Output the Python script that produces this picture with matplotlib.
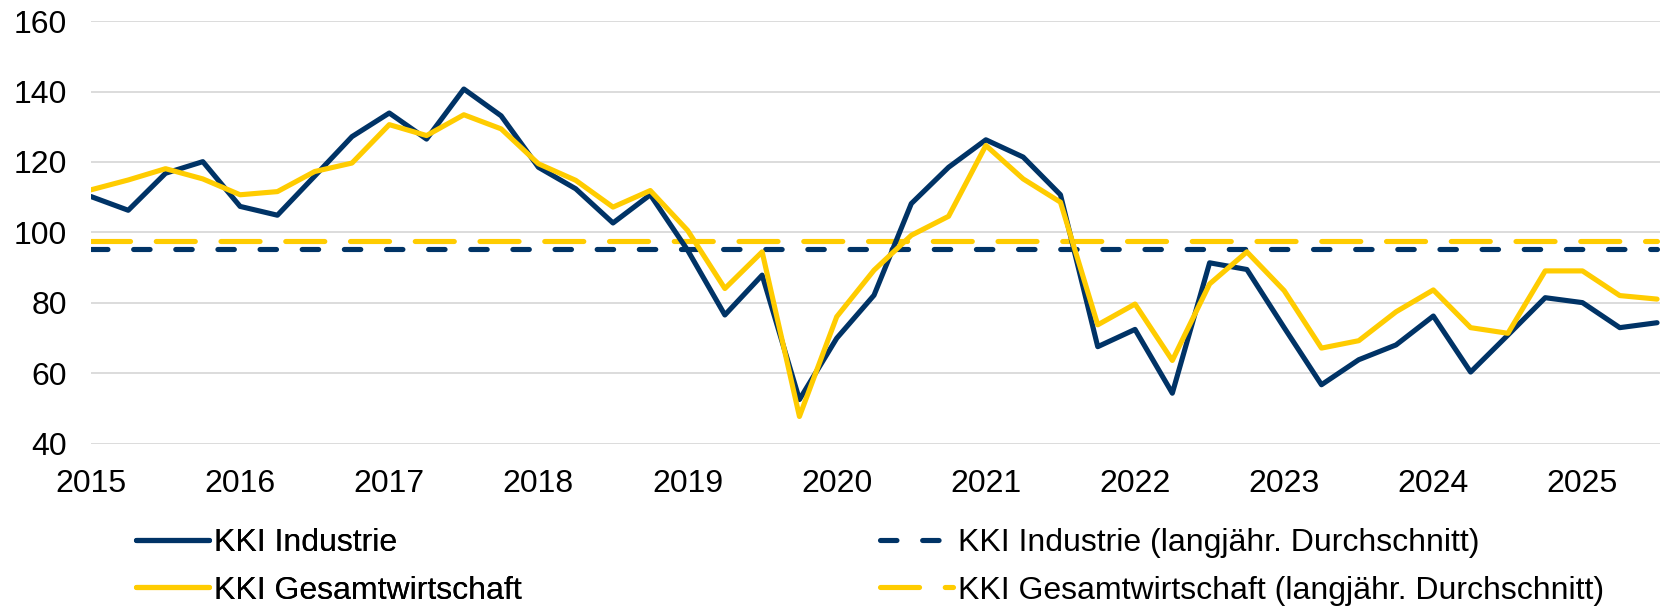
import matplotlib.pyplot as plt
import numpy as np

# quarterly values 2015 Q1 .. 2025 Q3
quarters = [f"{y} Q{q}" for y in range(2015, 2026) for q in range(1, 5)][:43]

kki_industrie = [110.2, 106.3, 116.8, 120.1, 107.4, 104.9, 116.0, 127.2, 133.9, 126.5,
                 140.7, 133.1, 118.5, 112.4, 102.7, 110.7, 95.0, 76.6, 87.9, 52.6,
                 70.0, 82.2, 108.2, 118.5, 126.3, 121.4, 110.7, 67.6, 72.5, 54.4,
                 91.4, 89.5, 73.0, 56.8, 63.9, 68.1, 76.3, 60.4, 70.9, 81.5,
                 80.1, 73.0, 74.4]
kki_gesamt = [112.1, 114.9, 118.1, 115.2, 110.7, 111.6, 117.3, 119.7, 130.6, 127.5,
              133.4, 129.4, 119.5, 114.8, 107.2, 111.9, 100.6, 84.1, 94.5, 47.8,
              76.1, 89.3, 99.2, 104.6, 124.7, 115.2, 108.6, 73.8, 79.7, 63.7,
              85.4, 94.5, 83.5, 67.2, 69.3, 77.5, 83.7, 73.0, 71.4, 89.1,
              89.1, 82.1, 81.1]
avg_industrie = 95.2
avg_gesamt = 97.7

year_labels = [str(y) for y in range(2015, 2026)]

NAVY = "#003366"
GOLD = "#FFCC00"

plt.rcParams['font.family'] = ['Liberation Sans', 'DejaVu Sans']

fig = plt.figure(figsize=(16.63, 6.09), dpi=100)
ax = fig.add_axes([0.0547, 0.271, 0.9433, 0.6945])

x = np.arange(len(quarters))
lw = 3.7

l_avg_i, = ax.plot(x, [avg_industrie] * len(x), color=NAVY, lw=lw,
                   dashes=(3.2, 5.0), dash_capstyle='round',
                   label="KKI Industrie (langjähr. Durchschnitt)")
l_avg_g, = ax.plot(x, [avg_gesamt] * len(x), color=GOLD, lw=lw,
                   dashes=(7.6, 5.0), dash_capstyle='round',
                   label="KKI Gesamtwirtschaft (langjähr. Durchschnitt)")
l_ind, = ax.plot(x, kki_industrie, color=NAVY, lw=lw, solid_capstyle='round',
                 label="KKI Industrie")
l_ges, = ax.plot(x, kki_gesamt, color=GOLD, lw=lw, solid_capstyle='round',
                 label="KKI Gesamtwirtschaft")

ax.set_xlim(0, 42.07)
ax.set_ylim(40, 160)
ax.set_yticks(range(40, 161, 20))
ax.set_xticks(x[::4])
ax.set_xticklabels(year_labels)
ax.tick_params(axis='both', length=0, labelsize=23)
ax.tick_params(axis='y', pad=17)
ax.tick_params(axis='x', pad=18)
ax.grid(axis='y', color='#D9D9D9', lw=1.3)
ax.set_axisbelow(True)
for s in ax.spines.values():
    s.set_visible(False)

leg_kw = dict(frameon=False, fontsize=23, handlelength=2.3, handletextpad=0.15,
              labelspacing=0.55, borderaxespad=0, borderpad=0)
leg1 = fig.legend(handles=[l_ind, l_ges], loc='upper left',
                  bbox_to_anchor=(136 / 1663, 1 - 528 / 609), **leg_kw)
fig.add_artist(leg1)
fig.legend(handles=[l_avg_i, l_avg_g], loc='upper left',
           bbox_to_anchor=(880 / 1663, 1 - 528 / 609), **leg_kw)

fig.savefig("out.png", dpi=100)
